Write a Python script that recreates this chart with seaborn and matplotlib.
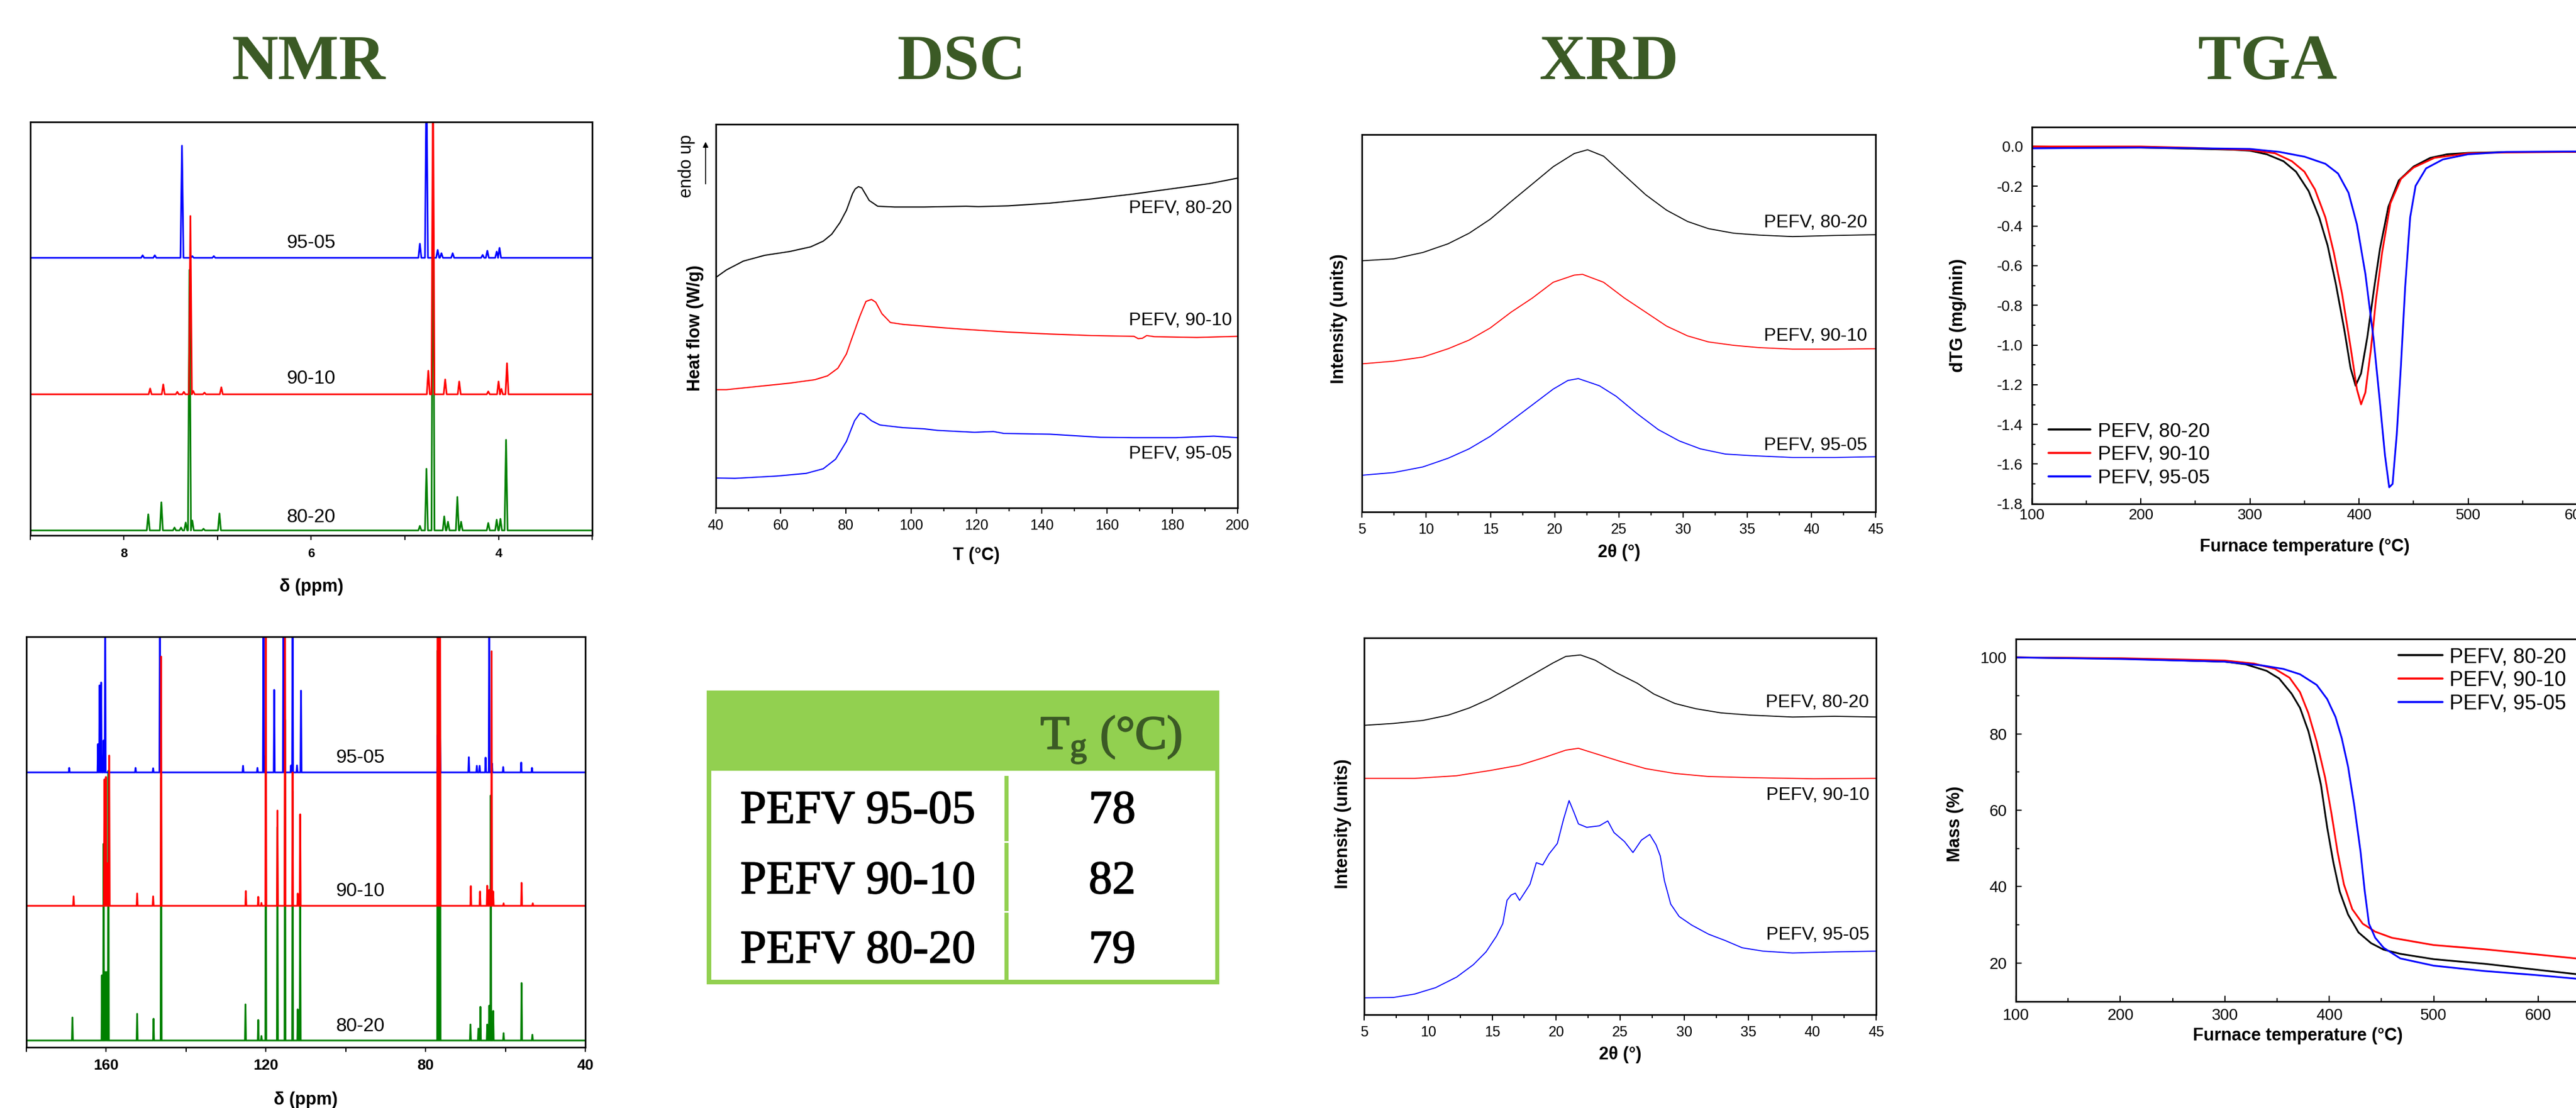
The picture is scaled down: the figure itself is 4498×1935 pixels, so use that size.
import pandas as pd
import seaborn as sns
import matplotlib.pyplot as plt
import matplotlib.patheffects as pe
from matplotlib.patches import Rectangle
from matplotlib.ticker import MultipleLocator, FormatStrFormatter

# ---------------- data ----------------
titles = ["NMR", "DSC", "XRD", "TGA"]
samples = ["PEFV, 80-20", "PEFV, 90-10", "PEFV, 95-05"]
nmr_tags = ["95-05", "90-10", "80-20"]

# 1H NMR peaks: ppm / height (% of panel height)
h_ppm_9505 = [7.80, 7.67, 7.38, 7.27, 7.04, 4.84, 4.77, 4.65, 4.61, 4.49, 4.17, 4.12, 4.02, 3.99]
h_int_9505 = [0.6, 0.6, 27.1, 0.4, 0.4, 3.4, 45, 1.9, 1.1, 1.1, 0.7, 1.7, 1.5, 2.4]
h_ppm_9010 = [7.72, 7.58, 7.43, 7.36, 7.29, 7.26, 7.14, 6.96, 4.75, 4.70, 4.57, 4.42, 4.11, 4.00, 3.97, 3.91]
h_int_9010 = [1.4, 2.4, 0.6, 0.6, 43.1, 0.8, 0.4, 1.7, 5.7, 80, 3.6, 3.1, 0.7, 3.1, 1.3, 7.5]
h_ppm_8020 = [7.74, 7.60, 7.46, 7.39, 7.34, 7.30, 7.27, 7.15, 6.98, 4.84, 4.77, 4.70, 4.58, 4.54,
              4.44, 4.40, 4.11, 4.02, 3.98, 3.92]
h_int_8020 = [3.9, 6.8, 0.7, 0.7, 1.9, 63.0, 2.4, 0.4, 4.1, 1.1, 14.9, 93.5, 3.4, 2.1,
              8.1, 2.1, 1.8, 2.6, 2.8, 21.9]
h_base = [67.1, 34.1, 1.2]

# 13C NMR peaks
c_ppm_9505 = [169.2, 162.0, 161.6, 161.2, 160.6, 160.2, 152.6, 148.2, 146.5, 125.7, 122.1, 120.6,
              117.9, 115.6, 113.7, 113.3, 112.2, 111.2, 77.0, 76.7, 76.4, 69.2, 67.2, 66.5, 65.0,
              64.1, 63.4, 60.6, 56.1, 53.4]
c_int_9505 = [1.1, 6.9, 21.2, 21.9, 7.8, 40, 1.1, 1.0, 40, 1.6, 1.1, 40,
              20.1, 40, 1.7, 40, 1.7, 19.9, 9.1, 9.1, 9.1, 3.7, 1.6, 1.6, 3.6,
              40, 2.2, 1.3, 2.4, 1.1]
c_ppm_9010 = [168.1, 160.4, 160.0, 159.6, 159.2, 152.2, 148.2, 146.2, 125.0, 121.9, 121.1, 120.0,
              117.1, 115.2, 113.3, 112.0, 111.4, 77.0, 76.7, 76.4, 68.7, 66.4, 64.6, 64.1, 63.5,
              63.1, 60.5, 56.0, 53.2]
c_int_9010 = [2.3, 30.8, 31.4, 10.4, 36.6, 3.0, 2.3, 60.7, 3.6, 2.2, 0.7, 80,
              23.2, 80, 32.5, 3.0, 22.3, 80, 80, 80, 4.8, 3.5, 4.9, 3.9, 62.0,
              3.5, 0.6, 5.6, 0.6]
c_ppm_8020 = [168.4, 161.0, 160.6, 160.2, 159.8, 159.4, 152.2, 148.1, 146.2, 125.1, 121.9, 121.1,
              120.0, 117.1, 115.2, 113.3, 112.0, 111.4, 77.0, 76.7, 76.4, 68.8, 66.8, 66.3, 64.6,
              64.1, 63.7, 63.1, 60.5, 56.0, 53.3]
c_int_8020 = [5.6, 15.9, 47.9, 16.7, 16.7, 65.7, 6.5, 5.3, 64.0, 8.8, 5.0, 1.1,
              69.4, 52.0, 78.1, 60.7, 7.6, 34.7, 95, 95, 95, 3.9, 2.9, 8.2, 3.9,
              8.5, 59.7, 7.2, 1.8, 14.0, 1.4]
c_base = [67.0, 34.5, 1.7]

# DSC (T in degC, heat flow in panel fraction)
dsc_T_8020 = [40, 43.3, 48.5, 55, 62.7, 69.1, 73, 75.6, 78.1, 80.1, 82, 82.8, 83.8, 84.8, 85.3, 87.1,
              89.7, 94.9, 103.9, 116.8, 120.6, 129.7, 142.5, 155.4, 168.3, 181.2, 191.5, 200]
dsc_q_8020 = [.600, .620, .643, .658, .668, .680, .695, .713, .743, .775, .819, .831, .837, .834, .827,
              .801, .786, .784, .784, .786, .785, .787, .794, .805, .818, .833, .845, .859]
dsc_T_9010 = [40, 43.3, 52.4, 62.7, 70.4, 74.3, 77.5, 80.1, 82, 84.3, 86.1, 87.8, 89.1, 91, 93.6,
              97.5, 110.3, 116.8, 129.7, 142.5, 155.4, 168.3, 169.6, 170.9, 172.2, 174.7, 187.6, 200]
dsc_q_9010 = [.308, .308, .316, .325, .334, .344, .364, .401, .447, .501, .538, .543, .536, .506, .483,
              .478, .469, .465, .458, .453, .449, .447, .441, .442, .449, .446, .444, .447]
dsc_T_9505 = [40, 45.9, 58.8, 67.8, 73, 76.8, 80.1, 82.6, 84.3, 85.6, 87.8, 90.4, 97.5, 103.9, 108,
              119.4, 125.2, 128.4, 142.5, 158, 168.3, 181.2, 192.8, 200]
dsc_q_9505 = [.078, .077, .083, .090, .102, .127, .173, .227, .247, .243, .227, .216, .209, .206, .202,
              .197, .199, .194, .192, .184, .183, .183, .187, .183]

tg_names = ["PEFV 95-05", "PEFV 90-10", "PEFV 80-20"]
tg_values = [78, 82, 79]

# XRD, top panel (2theta, intensity as panel fraction)
xa_2t_8020 = [5, 7.45, 9.74, 11.7, 13.34, 14.98, 16.61, 18.25, 19.88, 21.52, 22.56, 23.81, 25.44,
              27.08, 28.71, 30.35, 31.98, 33.94, 35.91, 38.52, 41.79, 45]
xa_i_8020 = [.665, .670, .687, .710, .738, .775, .822, .868, .914, .949, .959, .942, .891,
             .840, .799, .769, .750, .738, .733, .729, .732, .734]
xa_2t_9010 = [5, 7.45, 9.74, 11.7, 13.34, 14.98, 16.61, 18.25, 19.88, 21.52, 22.17, 23.81, 25.44,
              27.08, 28.71, 30.35, 31.98, 33.94, 35.91, 38.52, 41.79, 45]
xa_i_9010 = [.392, .399, .410, .432, .455, .487, .529, .566, .608, .627, .629, .608, .566,
             .529, .492, .466, .450, .441, .435, .431, .431, .432]
xa_2t_9505 = [5, 7.45, 9.74, 11.7, 13.34, 14.98, 16.61, 18.25, 19.88, 21.03, 21.84, 23.48, 24.79,
              26.42, 28.06, 29.69, 31.33, 33.29, 35.25, 38.52, 41.79, 45]
xa_i_9505 = [.097, .104, .119, .142, .167, .200, .241, .283, .325, .348, .353, .334, .306,
             .260, .218, .188, .167, .153, .149, .144, .144, .146]

# XRD, bottom panel
xb_2t_8020 = [5, 7.3, 9.59, 11.56, 13.2, 14.84, 16.48, 18.13, 19.77, 20.75, 21.9, 23.05, 24.69,
              26.33, 27.64, 29.28, 30.92, 32.89, 35.19, 38.47, 41.75, 45]
xb_i_8020 = [.768, .773, .781, .795, .814, .839, .870, .902, .934, .951, .955, .941, .908,
             .880, .851, .826, .812, .801, .795, .790, .792, .790]
xb_2t_9010 = [5, 8.94, 12.22, 14.84, 17.14, 19.11, 20.75, 21.74, 23.05, 25.02, 26.99, 29.28,
              31.91, 35.19, 40.11, 45]
xb_i_9010 = [.627, .627, .634, .648, .662, .683, .702, .707, .693, .672, .653, .640,
             .632, .629, .626, .627]
xb_2t_9505 = [5, 7.3, 8.94, 10.58, 12.22, 13.53, 14.52, 15.34, 15.83, 16.16, 16.48, 16.81, 17.14,
              17.47, 17.96, 18.45, 18.95, 19.44, 20.09, 20.59, 21.01, 21.41, 21.74, 22.39, 23.38,
              24.03, 24.52, 25.34, 26.0, 26.66, 27.31, 27.81, 28.13, 28.46, 28.95, 29.61, 30.6,
              31.91, 33.22, 34.53, 36.17, 38.47, 41.75, 45]
xb_i_9505 = [.044, .045, .054, .071, .099, .132, .166, .208, .241, .303, .317, .322, .303,
             .320, .346, .403, .397, .426, .454, .520, .568, .535, .506, .497, .501,
             .514, .483, .459, .430, .463, .478, .450, .421, .355, .293, .260, .237,
             .213, .196, .177, .168, .163, .166, .168]

# TGA derivative (T, dTG mg/min)
dtg_T_8020 = [100, 150, 200, 250, 284.6, 300, 315.4, 330.8, 342.3, 353.8, 363.5, 371.2, 378.8, 386.5,
              392.3, 396.9, 401.9, 407.7, 413.5, 419.2, 426.9, 436.5, 450, 465.4, 480.8, 500, 534.6, 600]
dtg_v_8020 = [0.0, -0.005, -0.005, -0.011, -0.016, -0.021, -0.039, -0.074, -0.127, -0.224, -0.357,
              -0.498, -0.693, -0.922, -1.117, -1.205, -1.143, -0.958, -0.728, -0.516, -0.304, -0.171,
              -0.101, -0.057, -0.039, -0.032, -0.028, -0.027]
dtg_T_9010 = [100, 200, 250, 300, 323.1, 338.5, 350, 359.6, 369.2, 376.9, 384.6, 392.3, 398.1, 401.9,
              405.8, 410.8, 415.4, 421.2, 428.8, 438.5, 450, 469.2, 500, 534.6, 600]
dtg_v_9010 = [0.0, 0.0, -0.007, -0.018, -0.034, -0.074, -0.127, -0.216, -0.357, -0.534, -0.746,
              -1.011, -1.223, -1.299, -1.240, -1.028, -0.781, -0.534, -0.286, -0.163, -0.106,
              -0.057, -0.034, -0.030, -0.027]
dtg_T_9505 = [100, 200, 300, 326.9, 350, 369.2, 380.8, 390.4, 398.1, 405.8, 413.5, 419.2, 423.8,
              427.7, 430.8, 434.6, 438.5, 442.3, 446.9, 451.9, 461.5, 476.9, 500, 534.6, 600]
dtg_v_9505 = [-0.009, -0.005, -0.012, -0.027, -0.051, -0.087, -0.136, -0.233, -0.392, -0.640,
              -0.975, -1.290, -1.555, -1.717, -1.700, -1.452, -1.099, -0.710, -0.357, -0.198,
              -0.110, -0.065, -0.039, -0.027, -0.025]

# TGA mass loss (T, mass %)
tg_T_8020 = [100, 200, 300, 320, 340, 352, 364, 372, 380, 386, 392, 398, 404, 410, 418, 428, 440,
             452, 468, 500, 548.6, 600, 636]
tg_m_8020 = [100, 99.7, 98.9, 98.2, 96.5, 94.5, 90.5, 86.8, 80.7, 74.2, 66.7, 55.5, 46.2, 38.7,
             32.7, 28.0, 25.2, 23.5, 22.4, 21.0, 19.8, 18.2, 17.1]
tg_T_9010 = [100, 200, 300, 328, 348, 362, 372, 380, 388, 396, 402, 408, 414, 422, 432, 444, 460,
             500, 548.6, 600, 636]
tg_m_9010 = [100, 99.8, 99.2, 98.4, 97.0, 94.7, 90.9, 85.4, 77.9, 68.6, 59.3, 49.0, 40.6, 34.1,
             30.3, 28.2, 26.6, 24.7, 23.6, 22.2, 21.2]
tg_T_9505 = [100, 200, 300, 336, 356, 372, 388, 398, 406, 412, 418, 424, 430, 434, 438, 444, 452,
             468, 500, 548.6, 600, 636]
tg_m_9505 = [100, 99.6, 98.9, 97.9, 97.0, 95.6, 92.8, 89.1, 84.4, 78.8, 71.4, 61.1, 49.0, 38.7,
             30.3, 26.6, 24.0, 21.2, 19.3, 17.9, 16.8, 15.9]

# ---------------- styling ----------------
sns.set_style("ticks", {"axes.edgecolor": "black", "xtick.color": "black", "ytick.color": "black",
                        "text.color": "black", "axes.labelcolor": "black"})
plt.rcParams['font.family'] = ['Liberation Sans', 'DejaVu Sans']
plt.rcParams['axes.unicode_minus'] = False
plt.rcParams['mathtext.fontset'] = 'custom'
plt.rcParams['mathtext.rm'] = 'Liberation Serif'
plt.rcParams['mathtext.bf'] = 'Liberation Serif:bold'

W, H = 4498, 1935
GREEN = '#3b5a25'
fig = plt.figure(figsize=(W / 100, H / 100), dpi=100, facecolor='white')


def add_ax(l, t, r, b):
    return fig.add_axes([l / W, 1 - b / H, (r - l) / W, (b - t) / H])


def curve(ax, x, y, color, lw, label=None):
    df = pd.DataFrame({'x': x, 'y': y})
    sns.lineplot(data=df, x='x', y='y', ax=ax, color=color, linewidth=lw,
                 estimator=None, sort=False, label=label, legend=False)


def spectrum(ppm, ints, base, hi, lo, w):
    xs, ys = [hi], [base]
    for p, h in sorted(zip(ppm, ints), reverse=True):
        xs += [p + w, p, p - w]
        ys += [base, base + h, base]
    xs.append(lo)
    ys.append(base)
    return xs, ys


def frame(ax):
    for s in ax.spines.values():
        s.set_visible(True)
        s.set_linewidth(2)
        s.set_color('black')


def label_at(ax, xl, yl, xc_x=None, xc_y=None, yc_x=None, yc_y=None, size=22):
    ax.set_xlabel(xl, fontsize=size, fontweight='bold')
    ax.set_ylabel(yl, fontsize=size, fontweight='bold')
    if xc_y is not None:
        ax.xaxis.set_label_coords(xc_x, xc_y)
        ax.xaxis.label.set_verticalalignment('center')
    if yc_x is not None:
        ax.yaxis.set_label_coords(yc_x, yc_y)
        ax.yaxis.label.set_verticalalignment('center')


for name, xc in zip(titles, [539, 1679, 2810, 3959]):
    fig.text(xc / W, 1 - 138 / H, name, fontsize=81, fontweight='bold',
             family='Liberation Serif', color=GREEN, ha='center', va='baseline')

# ---------------- NMR 1H ----------------
ax = add_ax(52.8, 212.5, 1034.1, 935)
h_sets = [(h_ppm_8020, h_int_8020, h_base[2], 'green'),
          (h_ppm_9505, h_int_9505, h_base[0], 'blue'),
          (h_ppm_9010, h_int_9010, h_base[1], 'red')]
for ppm, ints, base, c in h_sets:
    xs, ys = spectrum(ppm, ints, base, 9, 3, 0.016)
    curve(ax, xs, ys, c, 2.1)
ax.set_xlim(9, 3)
ax.set_ylim(0, 100)
ax.set_yticks([])
ax.set_xticks([8, 6, 4])
ax.set_xticklabels(['8', '6', '4'], fontweight='bold')
ax.xaxis.set_minor_locator(MultipleLocator(1))
ax.tick_params(axis='x', which='both', direction='out', length=6, width=1.5, labelsize=16, pad=10)
frame(ax)
label_at(ax, 'δ (ppm)', '', 0.5, -0.1246)
for tag, yy in zip(nmr_tags, [70.7, 37.9, 4.4]):
    ax.text(6.0, yy, tag, fontsize=24, ha='center', va='center')

# ---------------- NMR 13C ----------------
ax = add_ax(45.5, 1112.3, 1022.4, 1829.3)
c_sets = [(c_ppm_8020, c_int_8020, c_base[2], 'green'),
          (c_ppm_9505, c_int_9505, c_base[0], 'blue'),
          (c_ppm_9010, c_int_9010, c_base[1], 'red')]
for ppm, ints, base, c in c_sets:
    xs, ys = spectrum(ppm, ints, base, 180, 40, 0.12)
    curve(ax, xs, ys, c, 2.2)
ax.set_xlim(180, 40)
ax.set_ylim(0, 100)
ax.set_yticks([])
ax.set_xticks([160, 120, 80, 40])
ax.set_xticklabels(['160', '120', '80', '40'], fontweight='bold')
ax.xaxis.set_minor_locator(MultipleLocator(20))
ax.tick_params(axis='x', which='both', direction='out', length=6, width=1.5, labelsize=19, pad=8)
frame(ax)
label_at(ax, 'δ (ppm)', '', 0.5, -0.1275)
for tag, yy in zip(nmr_tags, [70.5, 38.0, 5.1]):
    ax.text(96.4, yy, tag, fontsize=24, ha='center', va='center')

# ---------------- DSC ----------------
ax = add_ax(1249.6, 216.7, 2160.5, 887)
curve(ax, dsc_T_8020, dsc_q_8020, 'black', 1.5)
curve(ax, dsc_T_9010, dsc_q_9010, 'red', 1.5)
curve(ax, dsc_T_9505, dsc_q_9505, 'blue', 1.5)
ax.set_xlim(40, 200)
ax.set_ylim(0, 1)
ax.set_yticks([])
ax.xaxis.set_major_locator(MultipleLocator(20))
ax.xaxis.set_minor_locator(MultipleLocator(10))
ax.tick_params(axis='x', which='major', direction='out', length=7, width=1.5, labelsize=18, pad=7)
ax.tick_params(axis='x', which='minor', direction='out', length=4, width=1.5)
frame(ax)
label_at(ax, 'T (°C)', 'Heat flow (W/g)', 0.5, -0.1238, -0.0394, 0.4684)
for s, yy in zip(samples, [0.780, 0.488, 0.140]):
    ax.text(198.3, yy, s, fontsize=23, ha='right', va='center')
ax.text(-0.0554, 0.8907, 'endo up', rotation=90, ha='center', va='center',
        transform=ax.transAxes, fontsize=22)
ax.annotate('', xy=(-0.0193, 0.958), xytext=(-0.0193, 0.840), xycoords='axes fraction',
            textcoords='axes fraction', annotation_clip=False,
            arrowprops=dict(arrowstyle='-|>', color='black', lw=1.2, mutation_scale=14))

# ---------------- DSC Tg table ----------------
tax = add_ax(1234.2, 1206.2, 2129, 1718.6)
tax.set_xlim(0, 1)
tax.set_ylim(0, 1)
tax.axis('off')
tax.add_patch(Rectangle((0, 0), 1, 1, color='#92D050', lw=0))
tax.add_patch(Rectangle((0.0082, 0.0156), 0.5813 - 0.0082, 0.728 - 0.0156, color='white', lw=0))
tax.add_patch(Rectangle((0.5892, 0.0156), 0.9918 - 0.5892, 0.728 - 0.0156, color='white', lw=0))
# small white breaks in the column divider
for yb, hb in [(0.710, 0.018), (0.4805, 0.006), (0.2425, 0.006)]:
    tax.add_patch(Rectangle((0.5800, yb), 0.0105, hb, color='white', lw=0))
tax.text(0.789, 0.8013, 'T$_\\mathregular{g}$ (°C)', fontsize=60, family='Liberation Serif',
         color=GREEN, ha='center', va='baseline',
         path_effects=[pe.withStroke(linewidth=1.6, foreground=GREEN)])
thick = [pe.withStroke(linewidth=1.3, foreground='black')]
for nm, v, yy in zip(tg_names, tg_values, [0.5496, 0.3095, 0.0733]):
    tax.text(0.2948, yy, nm, fontsize=59, family='Liberation Serif', ha='center', va='baseline',
             path_effects=thick)
    tax.text(0.791, yy, str(v), fontsize=59, family='Liberation Serif', ha='center', va='baseline',
             path_effects=thick)

# ---------------- XRD ----------------
xrd_panels = [
    ((2378.3, 234.5, 3275.3, 893.9), [(xa_2t_8020, xa_i_8020), (xa_2t_9010, xa_i_9010),
                                      (xa_2t_9505, xa_i_9505)], 44.34, [0.766, 0.466, 0.176],
     -0.0449, 0.511),
    ((2382, 1114.2, 3276, 1771.5), [(xb_2t_8020, xb_i_8020), (xb_2t_9010, xb_i_9010),
                                    (xb_2t_9505, xb_i_9505)], 44.45, [0.828, 0.582, 0.211],
     -0.0411, 0.506),
]
for rect, series, lx, lys, ylx, yly in xrd_panels:
    ax = add_ax(*rect)
    for (xx, yy), c in zip(series, ['black', 'red', 'blue']):
        curve(ax, xx, yy, c, 1.3)
    ax.set_xlim(5, 45)
    ax.set_ylim(0, 1)
    ax.set_yticks([])
    ax.xaxis.set_major_locator(MultipleLocator(5))
    ax.xaxis.set_minor_locator(MultipleLocator(2.5))
    ax.tick_params(axis='x', which='major', direction='out', length=7, width=1.5, labelsize=18, pad=7)
    ax.tick_params(axis='x', which='minor', direction='out', length=4, width=1.5)
    frame(ax)
    label_at(ax, '2θ (°)', 'Intensity (units)', 0.5, -0.108, ylx, yly)
    for s, yy in zip(samples, lys):
        ax.text(lx, yy, s, fontsize=23, ha='right', va='center')

# ---------------- TGA dTG ----------------
ax = add_ax(3547.7, 222.3, 4500, 879.8)
curve(ax, dtg_T_8020, dtg_v_8020, 'black', 2.2, samples[0])
curve(ax, dtg_T_9010, dtg_v_9010, 'red', 2.2, samples[1])
curve(ax, dtg_T_9505, dtg_v_9505, 'blue', 2.2, samples[2])
ax.set_xlim(100, 600)
ax.set_ylim(-1.8, 0.097)
ax.xaxis.set_major_locator(MultipleLocator(100))
ax.xaxis.set_minor_locator(MultipleLocator(50))
ax.yaxis.set_major_locator(MultipleLocator(0.2))
ax.yaxis.set_minor_locator(MultipleLocator(0.1))
ax.yaxis.set_major_formatter(FormatStrFormatter('%.1f'))
ax.tick_params(axis='both', which='major', direction='in', length=7, width=1.5, labelsize=19)
ax.tick_params(axis='both', which='minor', direction='in', length=4, width=1.5)
ax.tick_params(axis='x', which='major', pad=6)
ax.tick_params(axis='y', which='major', pad=11)
frame(ax)
label_at(ax, 'Furnace temperature (°C)', 'dTG (mg/min)', 0.5, -0.114, -0.135, 0.5)
leg = ax.legend(loc='upper left', bbox_to_anchor=(0.0309, 0.2187), frameon=False, fontsize=25,
                borderpad=0, borderaxespad=0, handlelength=2.1, handletextpad=0.37, labelspacing=0.23)
for ln in leg.get_lines():
    ln.set_linewidth(2.6)

# ---------------- TGA mass ----------------
ax = add_ax(3519.9, 1115.5, 4505, 1748.5)
curve(ax, tg_T_8020, tg_m_8020, 'black', 2.2, samples[0])
curve(ax, tg_T_9010, tg_m_9010, 'red', 2.2, samples[1])
curve(ax, tg_T_9505, tg_m_9505, 'blue', 2.2, samples[2])
ax.set_xlim(100, 640)
ax.set_ylim(10, 104.9)
ax.xaxis.set_major_locator(MultipleLocator(100))
ax.xaxis.set_minor_locator(MultipleLocator(50))
ax.yaxis.set_major_locator(MultipleLocator(20))
ax.yaxis.set_minor_locator(MultipleLocator(10))
ax.tick_params(axis='both', which='major', direction='in', length=7, width=1.5, labelsize=20)
ax.tick_params(axis='both', which='minor', direction='in', length=4, width=1.5)
ax.tick_params(axis='x', which='major', pad=9)
ax.tick_params(axis='y', which='major', pad=11)
frame(ax)
label_at(ax, 'Furnace temperature (°C)', 'Mass (%)', 0.5, -0.095, -0.107, 0.489)
leg = ax.legend(loc='upper left', bbox_to_anchor=(0.678, 0.977), frameon=False, fontsize=26,
                borderpad=0, borderaxespad=0, handlelength=2.13, handletextpad=0.35, labelspacing=0.16)
for ln in leg.get_lines():
    ln.set_linewidth(2.6)

fig.savefig('out.png', dpi=100, facecolor='white')
